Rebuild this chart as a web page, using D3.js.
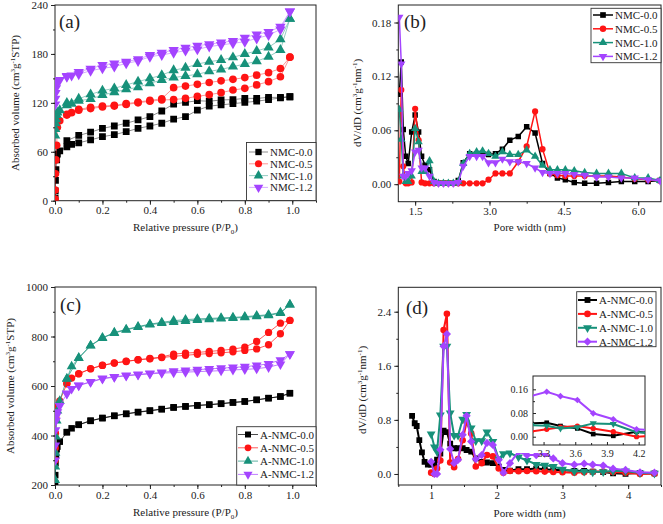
<!DOCTYPE html>
<html><head><meta charset="utf-8">
<script src="https://cdn.jsdelivr.net/npm/d3@7"></script>
<style>
body{margin:0;background:#fff}
svg{display:block}
text{font-family:"Liberation Serif","Times New Roman",serif;fill:#222}
</style>
</head><body>
<svg id="chart" width="663" height="524"></svg>
<script>
// ---------------- DATA ----------------
// Panels (a) and (c): N2 isotherms, adsorption then desorption branch
const pressureAds = [0.0005,0.001,0.002,0.004,0.007,0.01,0.02,0.05,0.07,0.1,0.15,0.2,0.25,0.3,0.35,0.4,0.45,0.5,0.55,0.6,0.65,0.7,0.75,0.8,0.85,0.9,0.95,0.99];
const pressureDes = [0.99,0.95,0.9,0.85,0.8,0.75,0.7,0.65,0.6,0.55,0.5,0.45,0.4,0.35,0.3,0.25,0.2,0.15,0.1,0.05];

const aNames = ["NMC-0.0","NMC-0.5","NMC-1.0","NMC-1.2"];
const aNMC00Ads = [3,12,25,38,50,57,61,66,69,71,74.5,78.5,81,84.6,88.7,91.6,95,100,103,111,116,117.5,119,120.5,122,124,126,127.5];
const aNMC00Des = [127.5,126.7,126.7,125.5,125.5,124,123.5,122,122.6,120.6,118.6,110,103,99,95,91.6,88.7,84,80,73.6];
const aNMC05Ads = [2,13,33,50,68,90,98,105,108,111,113,115,116,118,120,122,123.5,124,125.5,128,130,132.5,135.7,137.8,142,146,152,176];
const aNMC05Des = [176,162,157,154,151,148.8,147,145,142.7,140.6,138.6,125,123,121,119,117,116,114.5,112,106];
const aNMC10Ads = [80,88,95,100,105,108,111,117,119,122.6,124.7,129.6,133,136.5,139,144,148,151,153,155,158.6,161,164.4,167.6,171,176.6,184.8,223];
const aNMC10Des = [223,198,188,183.6,180,175.8,172.5,170.5,167.6,163,160,154,150,146,142,137.8,135,130.4,125,120];
const aNMC12Ads = [118,125,132,138,143,146,148,152,153.5,155,159.4,162.3,164.4,168.4,171.3,176.6,178.7,181.5,184,185.6,189,191,193,195,199,203,210,232];
const aNMC12Des = [232,213.4,207,204,200,196,194,192,190,187.7,184.8,181.5,178.7,173.4,170.5,168.4,166.4,162,158,153];

const cNames = ["A-NMC-0.0","A-NMC-0.5","A-NMC-1.0","A-NMC-1.2"];
const cANMC00Ads = [207,240,288,320,345,355,375,413,429,443,459,470,479,487,494,499.5,506,513,517,521,524,528,533,537,544,551,557.5,571];
const cANMC00Des = [571,557.5,551,544,538,534,529,525,522,518,514,507,501,495,488,480,471,460,444,414];
const cANMC05Ads = [300,350,409,470,505,517,540,609,632,649,669.5,683,692.5,699,706,710,715,720,724,728,731,734,738,743.7,750,766.7,811,865];
const cANMC05Des = [865,854,816.5,780,757,749,743.7,739.7,735.6,733,729,717,711,706,700,693,684,670,650,610];
const cANMC10Ads = [220,274,330,395,460,500,540,629,679,712.6,762.6,793.6,814,827,838,847.6,854,858,862,866,869,872,874.5,877,881,885,894.7,928.5];
const cANMC10Des = [928.5,897,888,884,880,877,875,873,871,868,864,857,850,840,829,816,795,764,714,630];
const cANMC12Ads = [300,360,422,460,480,495,520,568,588.5,602,615.5,629,635.7,641,645,649,652,654,656,658,660,662,665,667,670,676,688,729];
const cANMC12Des = [729,705,690,683,678,675,672,669,666,663,660,655,651,647,643,637,631,617,603,570];

// Panel (b): pore size distribution (nm)
const bWidth = [1.18,1.22,1.26,1.31,1.36,1.43,1.5,1.57,1.63,1.7,1.79,1.88,1.97,2.07,2.17,2.27,2.37,2.47,2.6,2.74,2.86,2.98,3.12,3.26,3.41,3.58,3.75,3.92,4.07,4.22,4.37,4.53,4.71,4.92,5.16,5.4,5.66,5.93,6.2,6.44];
const bNMC00 = [0.10,0.136,0.061,0.031,0.023,0.058,0.077,0.058,0.031,0.021,0.016,0.003,0.001,0.001,0.001,0.001,0.004,0.024,0.034,0.034,0.034,0.033,0.034,0.039,0.049,0.053,0.064,0.057,0.023,0.012,0.007,0.005,0.002,0.001,0.001,0.002,0.003,0.003,0.003,0.004];
const bNMC05 = [0.003,0.105,0.02,0.001,0.001,0.002,0.084,0.049,0.002,0.001,0.001,0.001,0.001,0.001,0.001,0.001,0.001,0.001,0.001,0.001,0.001,0.005,0.012,0.012,0.012,0.025,0.042,0.081,0.039,0.012,0.010,0.009,0.009,0.009,0.009,0.009,0.008,0.006,0.005,0.004];
const bNMC10 = [0.083,0.05,0.009,0.003,0.003,0.009,0.062,0.047,0.014,0.014,0.026,0.003,0.001,0.001,0.001,0.001,0.003,0.023,0.034,0.036,0.037,0.034,0.031,0.036,0.033,0.033,0.038,0.031,0.021,0.016,0.016,0.016,0.015,0.013,0.012,0.012,0.012,0.007,0.007,0.004];
const bNMC12 = [0.186,0.134,0.009,0.009,0.012,0.015,0.036,0.038,0.018,0.018,0.009,0.002,0.001,0.001,0.001,0.001,0.002,0.02,0.031,0.031,0.031,0.024,0.024,0.028,0.025,0.025,0.023,0.018,0.013,0.012,0.012,0.012,0.011,0.01,0.008,0.008,0.007,0.007,0.005,0.004];

// Panel (d): pore size distribution (nm), also used for the inset
const dWidth = [0.71,0.75,0.78,0.82,0.86,0.9,0.95,1.0,1.05,1.09,1.14,1.19,1.24,1.29,1.35,1.41,1.48,1.54,1.61,1.68,1.77,1.85,1.94,2.03,2.1,2.2,2.33,2.46,2.6,2.73,2.86,3.0,3.18,3.33,3.46,3.62,3.77,3.96,4.18,4.4];
const dANMC00 = [0.86,0.75,0.71,0.50,0.32,0.18,0.14,0.14,0.14,0.21,0.30,0.64,0.62,0.45,0.38,0.38,0.38,0.355,0.33,0.23,0.18,0.17,0.16,0.11,0.06,0.05,0.07,0.07,0.08,0.07,0.06,0.06,0.045,0.047,0.036,0.028,0.009,0.003,0.017,0.01];
const dANMC05 = [null,null,null,null,null,null,null,0.02,0.0,0.08,0.2,2.13,2.37,0.17,0.10,0.22,0.5,0.77,0.6,0.11,0.16,0.28,0.26,0.08,0.02,0.045,0.04,0.045,0.04,0.035,0.03,0.025,0.017,0.025,0.032,0.036,0.028,0.017,0.0,0.005];
const dANMC10 = [null,null,null,null,null,null,null,0.59,0.40,0.33,0.87,1.89,1.89,0.9,0.57,0.57,0.81,0.88,0.68,0.49,0.49,0.62,0.48,0.22,0.30,0.31,0.25,0.2,0.14,0.13,0.11,0.07,0.039,0.037,0.028,0.032,0.045,0.043,0.015,0.01];
const dANMC12 = [null,null,null,null,null,null,null,0.18,0.0,0.0,0.36,1.89,2.07,0.37,0.16,0.21,0.58,0.86,0.48,0.22,0.28,0.46,0.43,0.21,0.02,0.16,0.33,0.28,0.28,0.30,0.23,0.16,0.137,0.152,0.137,0.124,0.079,0.059,0.025,0.02];

// tick values
const isoXTicks = [0.0,0.2,0.4,0.6,0.8,1.0];
const aYTicks = [0,60,120,180,240];
const cYTicks = [200,400,600,800,1000];
const bXTicks = [1.5,3.0,4.5,6.0];
const bYTicks = [0.00,0.06,0.12,0.18];
const dXTicks = [1,2,3,4];
const dYTicks = [0.0,0.8,1.6,2.4];
const insetXTicks = [3.3,3.6,3.9,4.2];
const insetYTicks = [0.00,0.08,0.16];

// ---------------- DRAWING ----------------
const COL = ["#000000","#ff1414","#17917a","#a444ff"];
const svg = d3.select("#chart");
let clipN = 0;

function symbolPath(kind, size){
  const t = {sq:d3.symbolSquare, ci:d3.symbolCircle, tu:d3.symbolTriangle, td:d3.symbolTriangle, di:d3.symbolSquare}[kind];
  return d3.symbol(t, size)();
}
function symbolRot(kind){ return kind==="td" ? " rotate(180)" : kind==="di" ? " rotate(45)" : ""; }

function makePanel(p){
  const g = svg.append("g");
  const x = d3.scaleLinear().domain(p.xd).range([p.l,p.r]);
  const y = d3.scaleLinear().domain(p.yd).range([p.b,p.t]);
  const id = "clip" + (clipN++);
  svg.append("clipPath").attr("id",id).append("rect")
    .attr("x",p.l).attr("y",p.t).attr("width",p.r-p.l).attr("height",p.b-p.t);
  const fs = p.fs || 11;
  const inward = p.inward;
  const tl = inward ? -3 : 4, tlm = inward ? -2 : 2;
  // minor ticks
  g.append("g").attr("transform",`translate(0,${p.b})`)
    .call(d3.axisBottom(x).tickValues(p.xMinor).tickSize(tlm).tickFormat(""))
    .call(s=>s.select(".domain").remove());
  g.append("g").attr("transform",`translate(${p.l},0)`)
    .call(d3.axisLeft(y).tickValues(p.yMinor).tickSize(tlm).tickFormat(""))
    .call(s=>s.select(".domain").remove());
  // major ticks
  const xa = g.append("g").attr("transform",`translate(0,${p.b})`)
    .call(d3.axisBottom(x).tickValues(p.xTicks).tickSize(tl).tickPadding(inward?5:2).tickFormat(p.xf))
    .call(s=>s.select(".domain").remove());
  const ya = g.append("g").attr("transform",`translate(${p.l},0)`)
    .call(d3.axisLeft(y).tickValues(p.yTicks).tickSize(tl).tickPadding(inward?5:3).tickFormat(p.yf))
    .call(s=>s.select(".domain").remove());
  g.selectAll(".tick line").attr("stroke","#222").attr("stroke-width",1);
  [xa,ya].forEach(a=>a.selectAll("text").attr("font-family",'"Liberation Serif",serif').attr("font-size",fs).attr("fill","#222"));
  // frame
  g.append("rect").attr("x",p.l).attr("y",p.t).attr("width",p.r-p.l).attr("height",p.b-p.t)
    .attr("fill","none").attr("stroke","#222").attr("stroke-width",1);
  // series
  const sg = g.append("g").attr("clip-path",`url(#${id})`);
  p.series.forEach((s,i)=>{
    const pts = s.x.map((v,k)=>[v,s.y[k]]).filter(d=>d[1]!==null && d[1]!==undefined);
    sg.append("path").datum(pts)
      .attr("d", d3.line().x(d=>x(d[0])).y(d=>y(d[1])))
      .attr("fill","none").attr("stroke",s.c).attr("stroke-width",p.lw).attr("stroke-opacity",p.lo);
    sg.selectAll(null).data(pts).join("path")
      .attr("d", symbolPath(s.m, p.ms))
      .attr("transform", d=>`translate(${x(d[0])},${y(d[1])})${symbolRot(s.m)}`)
      .attr("fill", s.c);
  });
  return {g,x,y};
}

function addText(parts, attrs, small){
  const t = svg.append("text");
  Object.entries(attrs).forEach(([k,v])=>t.attr(k,v));
  let shift = 0;
  parts.forEach(pt=>{
    const ts = t.append("tspan").text(pt.t);
    let target = pt.s==="sup" ? -4.5 : pt.s==="sub" ? 3 : 0;
    ts.attr("dy", target - shift);
    shift = target;
    if(pt.s) ts.attr("font-size", small);
  });
  return t;
}

function legend(p){
  svg.append("rect").attr("x",p.x).attr("y",p.y).attr("width",p.w).attr("height",p.h)
    .attr("fill","#fff").attr("stroke","#333").attr("stroke-width",0.9);
  p.items.forEach((it,i)=>{
    const yy = p.y0 + i*p.dy;
    svg.append("line").attr("x1",p.lx1).attr("x2",p.lx2).attr("y1",yy).attr("y2",yy)
      .attr("stroke",it.c).attr("stroke-width",p.lw).attr("stroke-opacity",p.lo);
    svg.append("path").attr("d",symbolPath(it.m,p.ms))
      .attr("transform",`translate(${(p.lx1+p.lx2)/2},${yy})${symbolRot(it.m)}`).attr("fill",it.c);
    svg.append("text").attr("x",p.tx).attr("y",yy+4).attr("font-size",p.fs||11).text(it.n);
  });
}

const f1 = d3.format(".1f"), f2 = d3.format(".2f"), fd = d3.format("d");
const isoX = pressureAds.concat(pressureDes);

// ----- (a) -----
const mA = ["sq","ci","tu","td"];
makePanel({l:55,r:316,t:5,b:200.7,xd:[0,1.1],yd:[0,240],
  xTicks:isoXTicks,xMinor:d3.range(0,1.101,0.1),yTicks:aYTicks,yMinor:d3.range(0,241,30),
  xf:f1,yf:fd,lw:1,lo:0.45,ms:46,
  series:[
    {x:isoX,y:aNMC00Ads.concat(aNMC00Des),c:COL[0],m:mA[0]},
    {x:isoX,y:aNMC05Ads.concat(aNMC05Des),c:COL[1],m:mA[1]},
    {x:isoX,y:aNMC10Ads.concat(aNMC10Des),c:COL[2],m:mA[2]},
    {x:isoX,y:aNMC12Ads.concat(aNMC12Des),c:COL[3],m:mA[3]}]});
legend({x:246.5,y:142.5,w:69.5,h:58,y0:152,dy:11.8,lx1:249,lx2:268,tx:270,lw:1,lo:0.45,ms:40,
  items:aNames.map((n,i)=>({n,c:COL[i],m:mA[i]}))});

// ----- (b) -----
makePanel({l:398.3,r:661,t:5,b:201.7,xd:[1.16,6.46],yd:[-0.0195,0.1995],
  xTicks:bXTicks,xMinor:d3.range(1.5,6.46,0.75),yTicks:bYTicks,yMinor:d3.range(0,0.19,0.03),
  xf:f1,yf:f2,lw:1.5,lo:1,ms:30,
  series:[
    {x:bWidth,y:bNMC00,c:COL[0],m:"sq"},
    {x:bWidth,y:bNMC05,c:COL[1],m:"ci"},
    {x:bWidth,y:bNMC10,c:COL[2],m:"tu"},
    {x:bWidth,y:bNMC12,c:COL[3],m:"td"}]});
legend({x:591,y:8.3,w:70,h:54.4,y0:15,dy:13.8,lx1:593,lx2:613,tx:615,lw:1.5,lo:1,ms:32,
  items:aNames.map((n,i)=>({n,c:COL[i],m:mA[i]}))});

// ----- (c) -----
makePanel({l:55,r:316,t:287,b:485,xd:[0,1.1],yd:[200,1000],
  xTicks:isoXTicks,xMinor:d3.range(0,1.101,0.1),yTicks:cYTicks,yMinor:d3.range(200,1001,100),
  xf:f1,yf:fd,lw:1,lo:0.7,ms:42,
  series:[
    {x:isoX,y:cANMC00Ads.concat(cANMC00Des),c:COL[0],m:"sq"},
    {x:isoX,y:cANMC05Ads.concat(cANMC05Des),c:COL[1],m:"ci"},
    {x:isoX,y:cANMC10Ads.concat(cANMC10Des),c:COL[2],m:"tu"},
    {x:isoX,y:cANMC12Ads.concat(cANMC12Des),c:COL[3],m:"td"}]});
legend({x:236.7,y:426.7,w:79.3,h:58.3,y0:434.5,dy:13.3,lx1:238,lx2:258,tx:260,lw:1,lo:0.7,ms:36,
  items:cNames.map((n,i)=>({n,c:COL[i],m:mA[i]}))});

// ----- (d) -----
const mD = ["sq","ci","td","di"];
const dSeries = [dANMC00,dANMC05,dANMC10,dANMC12].map((ys,i)=>({x:dWidth,y:ys,c:COL[i],m:mD[i]}));
makePanel({l:398.3,r:661,t:287.3,b:485,xd:[0.5,4.5],yd:[-0.163,2.761],
  xTicks:dXTicks,xMinor:d3.range(0.5,4.51,0.5),yTicks:dYTicks,yMinor:d3.range(0,2.5,0.4),
  xf:fd,yf:f1,lw:2,lo:1,ms:34,series:dSeries});
legend({x:576.7,y:291.7,w:79.3,h:55,y0:300,dy:13.9,lx1:578,lx2:597,tx:599,lw:2,lo:1,ms:34,
  items:cNames.map((n,i)=>({n,c:COL[i],m:mD[i]}))});

// inset (white layer behind frame and its tick labels)
svg.append("rect").attr("x",512).attr("y",376).attr("width",137).attr("height",77).attr("fill","#fff");
makePanel({l:533,r:645,t:376,b:445,xd:[3.2,4.26],yd:[-0.028,0.205],inward:true,fs:10,
  xTicks:insetXTicks,xMinor:[3.45,3.75,4.05],yTicks:insetYTicks,yMinor:[0.04,0.12],
  xf:f1,yf:f2,lw:2,lo:1,ms:22,series:dSeries});

// ---------------- LABELS ----------------
const pl = [["(a)",59,28],["(b)",404,28],["(c)",60,311],["(d)",406,314]];
pl.forEach(([t,x,y])=>svg.append("text").attr("x",x).attr("y",y).attr("font-size",19).text(t));

// x labels
addText([{t:"Relative pressure (P/P"},{t:"0",s:"sub"},{t:")"}],{x:185.5,y:231,"text-anchor":"middle","font-size":11},7);
addText([{t:"Pore width (nm)"}],{x:529.6,y:231,"text-anchor":"middle","font-size":11},7);
addText([{t:"Relative pressure (P/P"},{t:"0",s:"sub"},{t:")"}],{x:185.5,y:516,"text-anchor":"middle","font-size":11},7);
addText([{t:"Pore width (nm)"}],{x:529.6,y:517,"text-anchor":"middle","font-size":11},7);

// y labels
const volParts = [{t:"Absorbed volume (cm"},{t:"3",s:"sup"},{t:"g"},{t:"-1",s:"sup"},{t:"STP)"}];
const pswParts = [{t:"dV/dD (cm"},{t:"3",s:"sup"},{t:"g"},{t:"-1",s:"sup"},{t:"nm"},{t:"-1",s:"sup"},{t:")"}];
addText(volParts,{transform:"translate(19,103) rotate(-90)","text-anchor":"middle","font-size":11},7);
addText(pswParts,{transform:"translate(361,103) rotate(-90)","text-anchor":"middle","font-size":11},7);
addText(volParts,{transform:"translate(14,386) rotate(-90)","text-anchor":"middle","font-size":11},7);
addText(pswParts,{transform:"translate(366,390) rotate(-90)","text-anchor":"middle","font-size":11},7);
</script>
</body></html>
